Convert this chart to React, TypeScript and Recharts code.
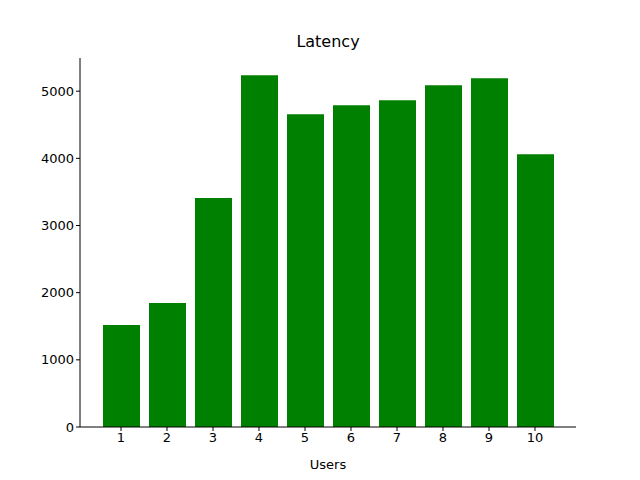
import { BarChart, Bar, XAxis, YAxis } from 'recharts';

const users = ['1', '2', '3', '4', '5', '6', '7', '8', '9', '10'];
const latency = [1518, 1845, 3408, 5238, 4658, 4792, 4866, 5089, 5193, 4062];
const yTicks = [0, 1000, 2000, 3000, 4000, 5000];

const data = users.map((u, i) => ({ users: u, latency: latency[i] }));

const font = { fontFamily: 'DejaVu Sans', fontSize: 13, fill: '#000' };
const axisLine = { stroke: '#000', strokeWidth: 1 };

const App = () => {
  return (
    <div style={{ position: 'absolute', left: 0, top: 0, width: 640, height: 480, background: '#fff' }}>
      <div
        style={{
          position: 'absolute',
          top: 32,
          width: 640,
          left: 8,
          textAlign: 'center',
          fontFamily: 'DejaVu Sans',
          fontSize: 16,
        }}
      >
        Latency
      </div>
      <BarChart
        width={640}
        height={480}
        data={data}
        margin={{ top: 58, right: 64, left: 20, bottom: 23 }}
      >
        <XAxis
          dataKey='users'
          padding={{ left: 18, right: 18 }}
          tick={font}
          tickLine={axisLine}
          axisLine={axisLine}
          tickSize={4}
          height={30}
          label={{ value: 'Users', position: 'insideBottom', offset: -12, ...font }}
        />
        <XAxis xAxisId='top' orientation='top' dataKey='users' tick={false} tickLine={false} axisLine={axisLine} height={0} />
        <YAxis
          domain={[0, 5494]}
          ticks={yTicks}
          tick={font}
          tickLine={axisLine}
          axisLine={axisLine}
          tickSize={4}
          width={60}
          allowDataOverflow
        />
        <YAxis yAxisId='right' orientation='right' tick={false} tickLine={false} axisLine={axisLine} width={0} />
        <Bar dataKey='latency' fill='#008000' barSize={37} isAnimationActive={false} />
      </BarChart>
    </div>
  );
};

export default App;
